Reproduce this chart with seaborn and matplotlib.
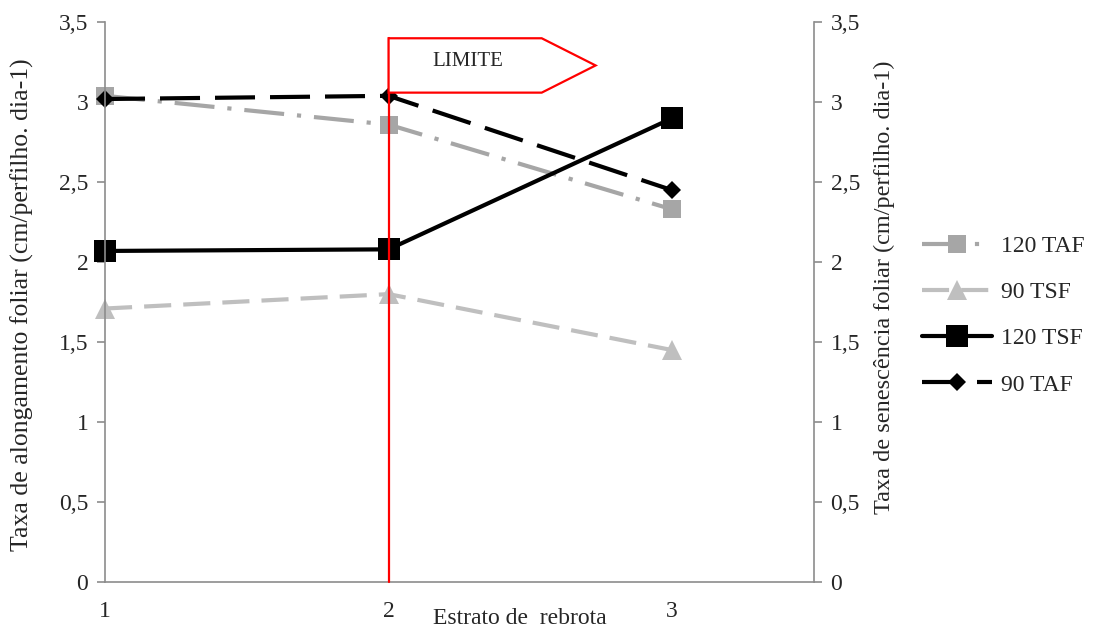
import numpy as np
import pandas as pd
import matplotlib
matplotlib.use("Agg")
import matplotlib.pyplot as plt
from matplotlib.patches import Polygon
from matplotlib.ticker import FuncFormatter, MultipleLocator
import seaborn as sns

sns.set_style("white")
plt.rcParams['font.family'] = ['Liberation Serif', 'DejaVu Serif']

# data
estrato = [1, 2, 3]
taf_120 = [3.04, 2.86, 2.33]
tsf_90 = [1.71, 1.80, 1.45]
tsf_120 = [2.07, 2.08, 2.90]
taf_90 = [3.02, 3.04, 2.45]
labels = ["120 TAF", "90 TSF", "120 TSF", "90 TAF"]
limite_x = 2

fig = plt.figure(figsize=(10.94, 6.31), dpi=100)
ax = fig.add_axes([0.096, 0.0777, 0.648, 0.887])

series = [taf_120, tsf_90, tsf_120, taf_90]
styles = [
    dict(color="#A6A6A6", linestyle=(0, (9.6, 3.1, 1, 3.1)), marker="s", markersize=13, lw=3),
    dict(color="#BFBFBF", linestyle=(0, (6.5, 2.9)), marker="^", markersize=15, lw=3),
    dict(color="black", linestyle="-", marker="s", markersize=15.5, lw=3),
    dict(color="black", linestyle=(0, (9.6, 3.6)), marker="D", markersize=9.5, lw=3),
]
for vals, lab, st in zip(series, labels, styles):
    df = pd.DataFrame({"x": estrato, "y": vals})
    sns.lineplot(data=df, x="x", y="y", ax=ax, label=lab, dash_capstyle="butt",
                 markeredgewidth=0, clip_on=False, **st)

ax.set_xlim(1, 3.5)
ax.set_ylim(0, 3.5)
ax.set_xticks(estrato)
ax.yaxis.set_major_locator(MultipleLocator(0.5))
fmt = FuncFormatter(lambda v, p: f"{v:g}".replace(".", ","))
ax.yaxis.set_major_formatter(fmt)

for s in ["top", "right"]:
    ax.spines[s].set_visible(False)
for s in ["left", "bottom"]:
    ax.spines[s].set_color("#8C8C8C")
    ax.spines[s].set_linewidth(1.2)
ax.tick_params(axis="both", direction="out", length=6, width=1.2, color="#8C8C8C",
               labelsize=17, pad=6)
ax.tick_params(axis="x", pad=8)

ax.set_xlabel("Estrato de  rebrota", fontsize=17)
ax.xaxis.set_label_coords(0.585, -0.047)
ax.set_ylabel("Taxa de alongamento foliar (cm/perfilho. dia-1)", fontsize=18.5)
ax.yaxis.set_label_coords(-0.100, 0.495)

ax2 = ax.twinx()
ax2.set_ylim(0, 3.5)
ax2.yaxis.set_major_locator(MultipleLocator(0.5))
ax2.yaxis.set_major_formatter(fmt)
for s in ["top", "left", "bottom"]:
    ax2.spines[s].set_visible(False)
ax2.spines["right"].set_color("#8C8C8C")
ax2.spines["right"].set_linewidth(1.2)
ax2.tick_params(axis="y", direction="out", length=6, width=1.2, color="#8C8C8C",
                labelsize=17, pad=6)
ax2.set_ylabel("Taxa de senescência foliar (cm/perfilho. dia-1)", fontsize=17.5)
ax2.yaxis.set_label_coords(1.085, 0.527)

# LIMITE marker
top, bot, mid = 3.40, 3.06, 3.23
ax2.plot([limite_x, limite_x], [0, top], color="red", lw=1.6, zorder=10, clip_on=False)
flag = Polygon([[limite_x, top], [2.54, top], [2.73, mid], [2.54, bot], [limite_x, bot]],
               closed=True, facecolor="white", edgecolor="red", lw=1.6, zorder=11)
ax2.add_patch(flag)
ax2.text(2.28, 3.255, "LIMITE", fontsize=15, ha="center", va="center", zorder=12)

handles, labs = ax.get_legend_handles_labels()
ax.get_legend().remove()
fig.legend(handles, labs, loc="center left", bbox_to_anchor=(0.823, 0.50), frameon=False,
           fontsize=17, labelspacing=1.05, handlelength=3.0, handletextpad=0.35)

fig.savefig("out.png", dpi=100)
